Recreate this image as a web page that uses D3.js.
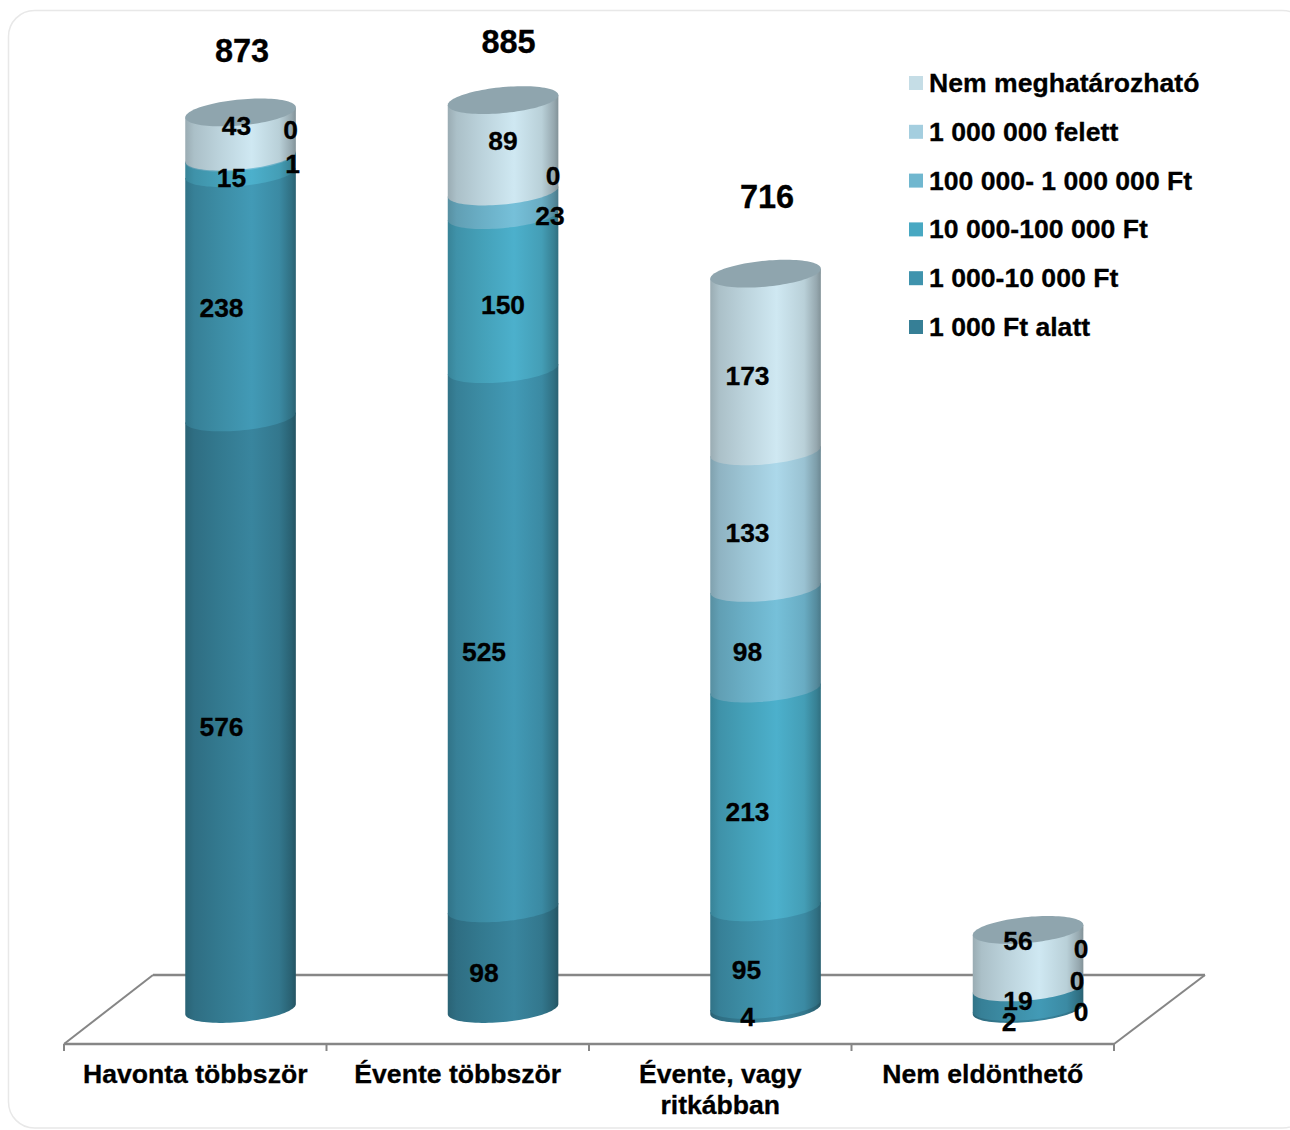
<!DOCTYPE html>
<html>
<head>
<meta charset="utf-8">
<script src="https://cdn.jsdelivr.net/npm/d3@7/dist/d3.min.js"></script>
<style>
html,body{margin:0;padding:0;background:#fff;overflow:hidden}
svg{display:block}
text{font-family:"Liberation Sans",Arial,sans-serif;font-weight:700;fill:#000;stroke:#000;stroke-width:.3px}
</style>
</head>
<body>
<div id="chart"></div>
<script>
const categories = ["Havonta többször", "Évente többször", "Évente, vagy ritkábban", "Nem eldönthető"];
const seriesNames = ["1 000 Ft alatt", "1 000-10 000 Ft", "10 000-100 000 Ft", "100 000- 1 000 000 Ft", "1 000 000 felett", "Nem meghatározható"];
const seriesColors = ["#367f96", "#3f93ad", "#48a8c2", "#70b7cf", "#a4cedf", "#c5dde6"];
const under1000 = [576, 98, 4, 2];
const from1000 = [238, 525, 95, 19];
const from10000 = [15, 150, 213, 0];
const from100000 = [1, 23, 98, 0];
const over1000000 = [0, 0, 133, 0];
const undetermined = [43, 89, 173, 56];
const totals = [873, 885, 716, 77];
const shownTotals = [873, 885, 716, null];
const seriesValues = [under1000, from1000, from10000, from100000, over1000000, undetermined];

// Hand placement of the data labels, relative to the middle of each segment [dx, dy]
const labelNudge = [
  [[-19,13],[-19,12],[-9,12],[52,6],[50,-27],[-4,-9]],
  [[-19,14],[-19,13],[0,12],[47,12],[50,-16],[0,-5]],
  [[-18,10],[-19,13],[-18,14],[-18,13],[-18,13],[-18,12.5]],
  [[-19,14],[-10,3],[53,24],[49,-7],[53,-39],[-10,-18]]
];
const totalNudge = [[1.5,62],[5.5,59],[1.5,77]];

const W = 1290, H = 1130;
const svg = d3.select("#chart").append("svg").attr("width", W).attr("height", H);
const defs = svg.append("defs");

// card outline
svg.append("rect").attr("x", 8.5).attr("y", 10.5).attr("width", 1300).attr("height", 1117.5)
  .attr("rx", 26).attr("fill", "#fff").attr("stroke", "#e8e8e8").attr("stroke-width", 1.5);

const x = d3.scaleBand().domain(categories).range([64, 1114]);
const y = d3.scaleLinear().domain([0, 1000]).range([1009, -18]);
const depth = 45.3, rx = 55.3, ryy = 13, shear = 5;
const floorBack = 975, floorFront = 1044, backDxL = 89, backDxR = 91;

// floor
const floor = svg.append("g").attr("fill", "none").attr("stroke", "#868686");
floor.append("line").attr("x1", x.range()[0] + backDxL).attr("x2", x.range()[1] + backDxR)
  .attr("y1", floorBack).attr("y2", floorBack).attr("stroke-width", 2.6);
floor.append("line").attr("x1", x.range()[0]).attr("x2", x.range()[0] + backDxL)
  .attr("y1", floorFront).attr("y2", floorBack).attr("stroke-width", 2);
floor.append("line").attr("x1", x.range()[1]).attr("x2", x.range()[1] + backDxR)
  .attr("y1", floorFront).attr("y2", floorBack).attr("stroke-width", 2);
floor.append("line").attr("x1", x.range()[0]).attr("x2", x.range()[1])
  .attr("y1", floorFront).attr("y2", floorFront).attr("stroke-width", 2.6);
categories.concat([null]).forEach(c => {
  const px = c === null ? x.range()[1] : x(c);
  floor.append("line").attr("x1", px).attr("x2", px)
    .attr("y1", floorFront).attr("y2", floorFront + 7).attr("stroke-width", 2);
});

// gradients
function shade(c, k) {
  const r = d3.rgb(c);
  return d3.rgb(Math.min(255, r.r * k), Math.min(255, r.g * k), Math.min(255, r.b * k)).formatHex();
}
seriesColors.forEach((c, i) => {
  const g = defs.append("linearGradient").attr("id", "cyl" + i)
    .attr("x1", "0").attr("x2", "1").attr("y1", "0").attr("y2", "0");
  [[0, .78], [.08, .87], [.3, .95], [.6, 1.05], [.85, .94], [.96, .76], [1, .66]].forEach(s => {
    g.append("stop").attr("offset", s[0]).attr("stop-color", shade(c, s[1]));
  });
});

const line = d3.line();
function frontArc(cx, cy) {
  // from the right end to the left end through the front of the ellipse
  return d3.range(0, 49).map(k => {
    const t = k / 48 * Math.PI;
    return [cx + rx * Math.cos(t), cy + ryy * Math.sin(t) - shear * Math.cos(t)];
  });
}
function backArc(cx, cy) {
  return d3.range(0, 49).map(k => {
    const t = Math.PI + k / 48 * Math.PI;
    return [cx + rx * Math.cos(t), cy + ryy * Math.sin(t) - shear * Math.cos(t)];
  });
}

// cylinders
const labels = [];
categories.forEach((cat, ci) => {
  const cx = x(cat) + x.bandwidth() / 2 + depth;
  const g = svg.append("g");
  let cum = 0;
  seriesValues.forEach((vals, si) => {
    const v = vals[ci];
    const lo = cum, hi = cum + v;
    if (v > 0) {
      const top = y(hi), bot = y(lo);
      const pts = [[cx - rx, top + shear], [cx + rx, top - shear]].concat(frontArc(cx, bot));
      g.append("path").attr("d", line(pts) + "Z").attr("fill", `url(#cyl${si})`);
    }
    const n = labelNudge[ci][si];
    labels.push({ text: v, x: cx + n[0], y: y((lo + hi) / 2) + n[1] });
    cum = hi;
  });
  const topY = y(totals[ci]);
  g.append("path").attr("d", line(frontArc(cx, topY).concat(backArc(cx, topY))) + "Z").attr("fill", "#8fa5ae");
  if (shownTotals[ci] !== null) {
    svg.append("text").attr("x", cx + totalNudge[ci][0]).attr("y", topY - totalNudge[ci][1]).attr("dy", ".36em")
      .attr("text-anchor", "middle").attr("font-size", 32.5).text(shownTotals[ci]);
  }
});

svg.append("g").selectAll("text").data(labels).join("text")
  .attr("x", d => d.x).attr("y", d => d.y).attr("dy", ".36em")
  .attr("text-anchor", "middle").attr("font-size", 26.4).text(d => d.text);

// category labels
const catLines = { "Évente, vagy ritkábban": ["Évente, vagy", "ritkábban"] };
categories.forEach(c => {
  (catLines[c] || [c]).forEach((t, i) => {
    svg.append("text").attr("x", x(c) + x.bandwidth() / 2).attr("y", 1073 + i * 31).attr("dy", ".36em")
      .attr("text-anchor", "middle").attr("font-size", 26.6).text(t);
  });
});

// legend
const rows = seriesNames.slice().reverse();
const ly = d3.scalePoint().domain(rows).range([83, 327]);
const leg = svg.append("g").selectAll("g").data(rows).join("g")
  .attr("transform", d => `translate(909,${ly(d)})`);
leg.append("rect").attr("x", 0).attr("y", -7).attr("width", 14).attr("height", 14)
  .attr("fill", d => seriesColors[seriesNames.indexOf(d)]);
leg.append("text").attr("x", 20).attr("y", -0.6).attr("dy", ".36em").attr("font-size", 26.6).text(d => d);
</script>
</body>
</html>
